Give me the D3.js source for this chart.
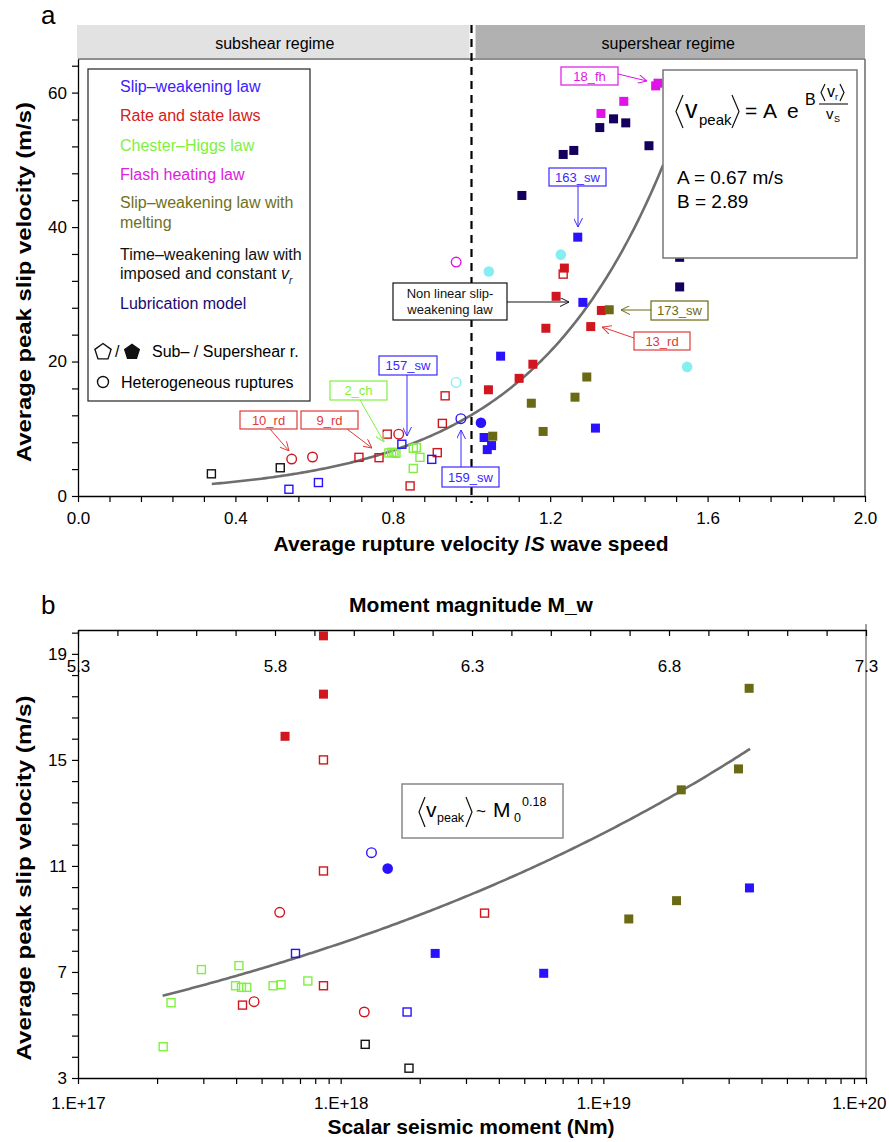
<!DOCTYPE html>
<html>
<head>
<meta charset="utf-8">
<script src="https://cdn.jsdelivr.net/npm/d3@7"></script>
<style>
  body { margin: 0; background: #fff; }
  svg text { font-family: "Liberation Sans", Arial, Helvetica, sans-serif; }
</style>
</head>
<body>
<svg id="chart" width="889" height="1142"></svg>
<script>
// ---------------------------------------------------------------
// Panel a: average rupture velocity / S wave speed vs average peak slip velocity
// point kinds: os = open square (subshear), fs = filled square (supershear),
//              oc / fc = open / filled circle (heterogeneous ruptures)
// ---------------------------------------------------------------
const slipWeakeningA = [
  [0.536, 1.0, "os"], [0.611, 2.0, "os"], [0.823, 7.7, "os"], [0.899, 5.45, "os"],
  [0.973, 11.5, "oc"], [1.024, 10.9, "fc"],
  [1.032, 8.7, "fs"], [1.051, 7.5, "fs"], [1.040, 6.9, "fs"], [1.074, 20.8, "fs"],
  [1.283, 28.8, "fs"], [1.315, 10.1, "fs"], [1.270, 38.5, "fs"]
];
const rateStateA = [
  [0.543, 5.5, "oc"], [0.596, 5.8, "oc"], [0.815, 9.2, "oc"],
  [0.714, 5.75, "os"], [0.765, 5.7, "os"], [0.786, 9.2, "os"], [0.913, 6.45, "os"],
  [0.844, 1.5, "os"], [0.926, 10.8, "os"], [0.933, 14.9, "os"], [1.233, 33.0, "os"],
  [1.043, 15.8, "fs"], [1.236, 33.9, "fs"], [1.215, 29.7, "fs"], [1.330, 27.6, "fs"],
  [1.303, 25.2, "fs"], [1.189, 24.95, "fs"], [1.156, 19.6, "fs"], [1.121, 17.5, "fs"]
];
const chesterHiggsA = [
  [0.790, 6.4, "os"], [0.797, 6.5, "os"], [0.803, 6.45, "os"], [0.808, 6.35, "os"],
  [0.852, 7.1, "os"], [0.860, 7.2, "os"], [0.869, 5.75, "os"], [0.852, 4.1, "os"]
];
const flashHeatingA = [
  [1.468, 61.0, "fs"], [1.474, 61.4, "fs"], [1.387, 58.7, "fs"], [1.329, 56.9, "fs"],
  [0.961, 34.8, "oc"]
];
const meltingA = [
  [1.054, 8.9, "fs"], [1.350, 27.7, "fs"], [1.293, 17.7, "fs"], [1.263, 14.7, "fs"],
  [1.152, 13.8, "fs"], [1.182, 9.6, "fs"]
];
const timeWeakeningA = [[0.339, 3.3, "os"], [0.514, 4.2, "os"]];
const lubricationA = [
  [1.361, 56.1, "fs"], [1.392, 55.5, "fs"], [1.326, 54.8, "fs"], [1.451, 52.1, "fs"],
  [1.260, 51.4, "fs"], [1.233, 50.8, "fs"], [1.128, 44.7, "fs"], [1.529, 35.5, "fs"],
  [1.529, 31.1, "fs"]
];
const nonlinearSwA = [
  [0.961, 16.9, "oc"], [1.044, 33.4, "fc"], [1.227, 35.9, "fc"], [1.548, 19.2, "fc"]
];

// exponential fit  <v_peak> = A exp(B <v_r>/v_S)
const fitA = 0.67;
const fitB = 2.89;
const fitRangeA = [0.34, 1.487];

// ---------------------------------------------------------------
// Panel b: scalar seismic moment (Nm) vs average peak slip velocity
// ---------------------------------------------------------------
const rateStateB = [
  [8.6e17, 19.68, "fs"], [8.6e17, 17.48, "fs"], [6.14e17, 15.89, "fs"],
  [8.6e17, 15.0, "os"], [8.6e17, 10.81, "os"], [3.53e18, 9.22, "os"], [8.6e17, 6.48, "os"],
  [4.23e17, 5.75, "os"],
  [5.86e17, 9.25, "oc"], [4.68e17, 5.88, "oc"], [1.23e18, 5.49, "oc"]
];
const slipWeakeningB = [
  [1.31e18, 11.5, "oc"], [1.51e18, 10.9, "fc"],
  [6.73e17, 7.7, "os"], [1.79e18, 5.49, "os"],
  [2.29e18, 7.7, "fs"], [5.93e18, 6.95, "fs"], [3.6e19, 10.17, "fs"]
];
const chesterHiggsB = [
  [2.95e17, 7.09, "os"], [4.1e17, 7.24, "os"], [3.98e17, 6.48, "os"], [4.19e17, 6.42, "os"],
  [4.39e17, 6.42, "os"], [5.53e17, 6.48, "os"], [5.93e17, 6.52, "os"], [7.5e17, 6.66, "os"],
  [2.26e17, 5.84, "os"], [2.11e17, 4.18, "os"]
];
const meltingB = [
  [3.59e19, 17.7, "fs"], [3.27e19, 14.66, "fs"], [1.98e19, 13.87, "fs"],
  [1.9e19, 9.69, "fs"], [1.25e19, 9.0, "fs"]
];
const timeWeakeningB = [[1.24e18, 4.27, "os"], [1.82e18, 3.37, "os"]];

// power-law fit  <v_peak> ~ M0^0.18
const powExp = 0.18;
const powPrefactor = 0.00465;
const fitRangeB = [2.1e17, 3.62e19];

// tick labels
const magnitudeLabels = ["5.3", "5.8", "6.3", "6.8", "7.3"];
const momentLabels = ["1.E+17", "1.E+18", "1.E+19", "1.E+20"];

// law colours
const C = {
  sw: "#2a12ff", rs: "#d0161e", ch: "#80f040", fh: "#e014e6",
  swm: "#6b6a14", tw: "#111111", lub: "#14005c", nl: "#86eef0"
};

const svg = d3.select("#chart");

// arrowheads for the callouts
const defs = svg.append("defs");
function arrowId(color) {
  const id = "arr" + color.replace("#", "");
  if (defs.select("#" + id).empty()) {
    defs.append("marker").attr("id", id)
      .attr("viewBox", "0 0 10 10").attr("refX", 10).attr("refY", 5)
      .attr("markerWidth", 9).attr("markerHeight", 9)
      .attr("markerUnits", "userSpaceOnUse").attr("orient", "auto")
      .append("path").attr("d", "M0,0 L10,5 L0,10")
      .attr("fill", "none").attr("stroke", color).attr("stroke-width", 1.1);
  }
  return "url(#" + id + ")";
}

function drawPoint(g, x, y, kind, color) {
  if (kind === "os") {
    g.append("rect").attr("x", x - 4).attr("y", y - 4).attr("width", 8).attr("height", 8)
      .attr("fill", "none").attr("stroke", color).attr("stroke-width", 1.4);
  } else if (kind === "fs") {
    g.append("rect").attr("x", x - 4.5).attr("y", y - 4.5).attr("width", 9).attr("height", 9)
      .attr("fill", color);
  } else if (kind === "oc") {
    g.append("circle").attr("cx", x).attr("cy", y).attr("r", 4.8)
      .attr("fill", "none").attr("stroke", color).attr("stroke-width", 1.4);
  } else {
    g.append("circle").attr("cx", x).attr("cy", y).attr("r", 5.3).attr("fill", color);
  }
}

function styleAxis(g) {
  g.select(".domain").attr("stroke", "#000").attr("stroke-width", 1.3);
  g.selectAll(".tick line").attr("stroke", "#000").attr("stroke-width", 1.2);
  g.selectAll(".tick text").attr("font-size", 17).attr("fill", "#000")
    .attr("font-family", '"Liberation Sans", Arial, sans-serif');
}

// ================================================================
// PANEL A
// ================================================================
const xA = d3.scaleLinear().domain([0, 2]).range([78, 865]);
const yA = d3.scaleLinear().domain([0, 65]).range([496, 59]);

svg.append("text").attr("x", 41).attr("y", 24).attr("font-size", 26).text("a");

// regime headers
svg.append("rect").attr("x", xA(0) - 1).attr("y", 25).attr("width", xA(1) - xA(0) - 1).attr("height", 33)
  .attr("fill", "#e2e2e2");
svg.append("rect").attr("x", xA(1) + 4).attr("y", 25).attr("width", xA(2) - xA(1) - 4).attr("height", 33)
  .attr("fill", "#b1b1b1");
svg.append("text").attr("x", (xA(0) + xA(1)) / 2).attr("y", 49).attr("text-anchor", "middle")
  .attr("font-size", 16).text("subshear regime");
svg.append("text").attr("x", (xA(1) + xA(2)) / 2).attr("y", 49).attr("text-anchor", "middle")
  .attr("font-size", 16).text("supershear regime");

// frame (top and right)
svg.append("line").attr("x1", xA(0)).attr("x2", xA(2)).attr("y1", yA(65)).attr("y2", yA(65))
  .attr("stroke", "#6a6a6a").attr("stroke-width", 1.5);
svg.append("line").attr("x1", xA(2)).attr("x2", xA(2)).attr("y1", yA(65)).attr("y2", yA(0))
  .attr("stroke", "#6a6a6a").attr("stroke-width", 1.5);

// axes
const xTicksA = d3.range(0, 26).map(i => +(i * 0.08).toFixed(2));
const yTicksA = d3.range(0, 17).map(i => i * 4);
const axA_x = svg.append("g").attr("transform", `translate(0,${yA(0)})`)
  .call(d3.axisBottom(xA).tickValues(xTicksA).tickSize(6).tickSizeOuter(0).tickPadding(10)
    .tickFormat(v => Math.abs(v / 0.4 - Math.round(v / 0.4)) < 1e-6 ? v.toFixed(1) : ""));
styleAxis(axA_x);
const axA_y = svg.append("g").attr("transform", `translate(${xA(0)},0)`)
  .call(d3.axisLeft(yA).tickValues(yTicksA).tickSize(6).tickSizeOuter(0).tickPadding(5)
    .tickFormat(v => v % 20 === 0 ? v : ""));
styleAxis(axA_y);

// sub/supershear boundary
svg.append("line").attr("x1", xA(1)).attr("x2", xA(1)).attr("y1", 25).attr("y2", yA(0) + 7)
  .attr("stroke", "#000").attr("stroke-width", 2.2).attr("stroke-dasharray", "8,6");

// fitted curve
defs.append("clipPath").attr("id", "clipA").append("rect")
  .attr("x", xA(0)).attr("y", yA(65)).attr("width", xA(2) - xA(0)).attr("height", yA(0) - yA(65));
const curveA = d3.range(0, 201).map(i => {
  const v = fitRangeA[0] + (fitRangeA[1] - fitRangeA[0]) * i / 200;
  return [v, fitA * Math.exp(fitB * v)];
});
svg.append("path").attr("clip-path", "url(#clipA)")
  .attr("d", d3.line().x(d => xA(d[0])).y(d => yA(d[1]))(curveA))
  .attr("fill", "none").attr("stroke", "#6e6e6e").attr("stroke-width", 2.6);

// points
const gA = svg.append("g");
[[chesterHiggsA, C.ch], [timeWeakeningA, C.tw], [rateStateA, C.rs], [slipWeakeningA, C.sw],
 [meltingA, C.swm], [lubricationA, C.lub], [flashHeatingA, C.fh], [nonlinearSwA, C.nl]]
  .forEach(([arr, col]) => arr.forEach(d => drawPoint(gA, xA(d[0]), yA(d[1]), d[2], col)));

// callouts
function callout(box, label, color, from, to, fontSize) {
  svg.append("rect").attr("x", box[0]).attr("y", box[1]).attr("width", box[2]).attr("height", box[3])
    .attr("fill", "#fff").attr("stroke", color).attr("stroke-width", 1.2);
  const lines = Array.isArray(label) ? label : [label];
  const fs = fontSize || 13;
  const cy = box[1] + box[3] / 2;
  lines.forEach((t, i) => {
    svg.append("text").attr("x", box[0] + box[2] / 2)
      .attr("y", cy + fs * 0.36 + (i - (lines.length - 1) / 2) * fs * 1.2)
      .attr("text-anchor", "middle").attr("font-size", fs).attr("fill", color).text(t);
  });
  svg.append("line").attr("x1", from[0]).attr("y1", from[1]).attr("x2", to[0]).attr("y2", to[1])
    .attr("stroke", color).attr("stroke-width", 1).attr("marker-end", arrowId(color));
}
callout([561, 67, 57, 18], "18_fh", C.fh, [618, 74], [647, 81]);
callout([549, 168, 57, 18], "163_sw", "#3a28ff", [578, 186], [578, 227]);
callout([651, 301, 57, 19], "173_sw", C.swm, [651, 310], [621, 310]);
callout([634, 332, 56, 18], "13_rd", "#e03a3a", [634, 338], [602, 327]);
callout([393, 283, 114, 37], ["Non linear slip-", "weakening law"], "#111", [507, 302], [569, 302]);
callout([442, 467, 57, 20], "159_sw", "#3a28ff", [461, 467], [461, 430]);
callout([379, 356, 58, 19], "157_sw", "#3a28ff", [407, 375], [407, 436]);
callout([330, 381, 57, 19], "2_ch", C.ch, [360, 400], [384, 442]);
callout([301, 411, 57, 18], "9_rd", "#e03a3a", [347, 429], [372, 448]);
callout([240, 411, 57, 18], "10_rd", "#e03a3a", [270, 429], [289, 451]);

// legend
const legG = svg.append("g");
legG.append("rect").attr("x", 88).attr("y", 69).attr("width", 222).attr("height", 332)
  .attr("fill", "#fff").attr("stroke", "#222").attr("stroke-width", 1.2);
const legendRows = [
  ["Slip\u2013weakening law", "#3a20ff", 92],
  ["Rate and state laws", "#d42020", 121],
  ["Chester\u2013Higgs law", "#80f040", 151],
  ["Flash heating law", "#dd22dd", 180],
  ["Slip\u2013weakening law with", "#707020", 208],
  ["melting", "#707020", 228],
  ["Time\u2013weakening law with", "#111", 260],
  ["Lubrication model", "#1a0a70", 309]
];
legendRows.forEach(r => legG.append("text").attr("x", 120).attr("y", r[2]).attr("font-size", 16)
  .attr("fill", r[1]).text(r[0]));
const impTxt = legG.append("text").attr("x", 120).attr("y", 279).attr("font-size", 16).attr("fill", "#111");
impTxt.append("tspan").text("imposed and constant ");
impTxt.append("tspan").attr("font-style", "italic").text("v");
impTxt.append("tspan").attr("font-style", "italic").attr("font-size", 10).attr("dy", 5).text("r");

function pentagon(cx, cy, r) {
  return d3.range(5).map(i => {
    const a = -Math.PI / 2 + i * 2 * Math.PI / 5;
    return [cx + r * Math.cos(a), cy + r * Math.sin(a)];
  });
}
legG.append("polygon").attr("points", pentagon(103, 352, 8.5).join(" "))
  .attr("fill", "#fff").attr("stroke", "#111").attr("stroke-width", 1.4);
legG.append("text").attr("x", 115).attr("y", 357).attr("font-size", 16).text("/");
legG.append("polygon").attr("points", pentagon(132, 352, 8.5).join(" ")).attr("fill", "#111");
legG.append("text").attr("x", 152).attr("y", 357).attr("font-size", 16).text("Sub\u2013 / Supershear r.");
legG.append("circle").attr("cx", 103).attr("cy", 382).attr("r", 5.5)
  .attr("fill", "none").attr("stroke", "#111").attr("stroke-width", 1.4);
legG.append("text").attr("x", 121).attr("y", 388).attr("font-size", 16).text("Heterogeneous ruptures");

// formula box
function bracket(g, x, y0, y1, dir, w) {
  const ym = (y0 + y1) / 2;
  g.append("path").attr("d", `M${x},${y0} L${x + dir * w},${ym} L${x},${y1}`)
    .attr("fill", "none").attr("stroke", "#111").attr("stroke-width", 1.2);
}
const fG = svg.append("g");
fG.append("rect").attr("x", 663).attr("y", 70).attr("width", 194).attr("height", 188)
  .attr("fill", "#fff").attr("stroke", "#777").attr("stroke-width", 1.5);
bracket(fG, 683, 95, 128, -1, 7);
fG.append("text").attr("x", 685).attr("y", 118).attr("font-size", 25).text("v");
fG.append("text").attr("x", 699).attr("y", 125).attr("font-size", 15).text("peak");
bracket(fG, 732, 95, 128, 1, 7);
fG.append("text").attr("x", 745).attr("y", 118).attr("font-size", 21).text("=");
fG.append("text").attr("x", 763).attr("y", 118).attr("font-size", 21).text("A");
fG.append("text").attr("x", 787).attr("y", 118).attr("font-size", 21).text("e");
fG.append("text").attr("x", 805).attr("y", 105).attr("font-size", 16).text("B");
bracket(fG, 825, 84, 101, -1, 4);
fG.append("text").attr("x", 827).attr("y", 97).attr("font-size", 16).text("v");
fG.append("text").attr("x", 835).attr("y", 100).attr("font-size", 9).text("r");
bracket(fG, 840, 84, 101, 1, 4);
fG.append("line").attr("x1", 819).attr("x2", 848).attr("y1", 104).attr("y2", 104)
  .attr("stroke", "#111").attr("stroke-width", 1.1);
fG.append("text").attr("x", 826).attr("y", 119).attr("font-size", 15).text("v");
fG.append("text").attr("x", 834).attr("y", 122).attr("font-size", 9).text("S");
fG.append("text").attr("x", 677).attr("y", 184).attr("font-size", 19).text(`A = ${fitA} m/s`);
fG.append("text").attr("x", 677).attr("y", 208).attr("font-size", 19).text(`B = ${fitB}`);

// axis titles
svg.append("text").attr("transform", "translate(31,282) rotate(-90)").attr("text-anchor", "middle")
  .attr("font-size", 21).attr("font-weight", "bold").attr("textLength", 360)
  .attr("lengthAdjust", "spacingAndGlyphs").text("Average peak slip velocity (m/s)");
const xtA = svg.append("text").attr("x", 471).attr("y", 551).attr("text-anchor", "middle")
  .attr("font-size", 21).attr("font-weight", "bold");
xtA.append("tspan").text("Average rupture velocity /");
xtA.append("tspan").attr("font-style", "italic").text("S");
xtA.append("tspan").text(" wave speed");

// ================================================================
// PANEL B
// ================================================================
const xB = d3.scaleLog().domain([1e17, 1e20]).range([78, 866]);
const yB = d3.scaleLinear().domain([3, 19.9]).range([1078, 630]);
const xMw = d3.scaleLinear().domain([5.3, 7.3]).range([78, 866]);

svg.append("text").attr("x", 41).attr("y", 614).attr("font-size", 26).text("b");
svg.append("text").attr("x", 471).attr("y", 612).attr("text-anchor", "middle")
  .attr("font-size", 21).attr("font-weight", "bold").text("Moment magnitude M_w");

// right border
svg.append("line").attr("x1", xB(1e20)).attr("x2", xB(1e20)).attr("y1", 624).attr("y2", yB(3))
  .attr("stroke", "#8a8a8a").attr("stroke-width", 1.6);

// top magnitude axis
const mwTicks = d3.range(0, 21).map(i => +(5.3 + i * 0.1).toFixed(1));
const axB_top = svg.append("g").attr("transform", `translate(0,${yB(19.9)})`)
  .call(d3.axisBottom(xMw).tickValues(mwTicks).tickSize(6).tickSizeOuter(0).tickPadding(24)
    .tickFormat(v => magnitudeLabels.includes(v.toFixed(1)) ? v.toFixed(1) : ""));
styleAxis(axB_top);

// bottom moment axis
const momentTicks = [];
[17, 18, 19].forEach(d => d3.range(1, 10).forEach(k => momentTicks.push(k * Math.pow(10, d))));
momentTicks.push(1e20);
const axB_x = svg.append("g").attr("transform", `translate(0,${yB(3)})`)
  .call(d3.axisBottom(xB).tickValues(momentTicks).tickSize(6).tickSizeOuter(0).tickPadding(13)
    .tickFormat(v => {
      const e = Math.log10(v);
      return Math.abs(e - Math.round(e)) < 1e-9 ? momentLabels[Math.round(e) - 17] : "";
    }));
styleAxis(axB_x);
// keep the last moment label inside the page
axB_x.selectAll(".tick text").filter(d => d >= 1e20).attr("text-anchor", "end").attr("dx", 20);

// left velocity axis
const yTicksB = d3.range(0, 22).map(i => +(3 + i * 0.8).toFixed(1));
const axB_y = svg.append("g").attr("transform", `translate(${xB(1e17)},0)`)
  .call(d3.axisLeft(yB).tickValues(yTicksB).tickSize(6).tickSizeOuter(0).tickPadding(5)
    .tickFormat(v => Math.abs((v - 3) / 4 - Math.round((v - 3) / 4)) < 1e-6 ? v : ""));
styleAxis(axB_y);

// power-law curve
const curveB = d3.range(0, 201).map(i => {
  const lm = Math.log10(fitRangeB[0]) + (Math.log10(fitRangeB[1]) - Math.log10(fitRangeB[0])) * i / 200;
  const m = Math.pow(10, lm);
  return [m, powPrefactor * Math.pow(m, powExp)];
});
svg.append("path").attr("d", d3.line().x(d => xB(d[0])).y(d => yB(d[1]))(curveB))
  .attr("fill", "none").attr("stroke", "#6e6e6e").attr("stroke-width", 2.6);

// points
const gB = svg.append("g");
[[chesterHiggsB, C.ch], [timeWeakeningB, C.tw], [rateStateB, C.rs], [slipWeakeningB, C.sw],
 [meltingB, C.swm]]
  .forEach(([arr, col]) => arr.forEach(d => drawPoint(gB, xB(d[0]), yB(d[1]), d[2], col)));

// power-law formula box
const pG = svg.append("g");
pG.append("rect").attr("x", 402).attr("y", 784).attr("width", 161).attr("height", 54)
  .attr("fill", "#fff").attr("stroke", "#888").attr("stroke-width", 1.5);
bracket(pG, 425, 797, 827, -1, 6);
pG.append("text").attr("x", 426).attr("y", 817).attr("font-size", 21).text("v");
pG.append("text").attr("x", 437).attr("y", 822).attr("font-size", 12.5).text("peak");
bracket(pG, 466, 797, 827, 1, 6);
pG.append("text").attr("x", 476).attr("y", 817).attr("font-size", 17).text("~");
pG.append("text").attr("x", 493).attr("y", 817).attr("font-size", 21).text("M");
pG.append("text").attr("x", 514).attr("y", 822).attr("font-size", 12.5).text("0");
pG.append("text").attr("x", 522).attr("y", 806).attr("font-size", 12.5).text(String(powExp));

// axis titles
svg.append("text").attr("transform", "translate(31,878) rotate(-90)").attr("text-anchor", "middle")
  .attr("font-size", 21).attr("font-weight", "bold").attr("textLength", 365)
  .attr("lengthAdjust", "spacingAndGlyphs").text("Average peak slip velocity (m/s)");
svg.append("text").attr("x", 471).attr("y", 1134).attr("text-anchor", "middle")
  .attr("font-size", 21).attr("font-weight", "bold").text("Scalar seismic moment (Nm)");
</script>
</body>
</html>
